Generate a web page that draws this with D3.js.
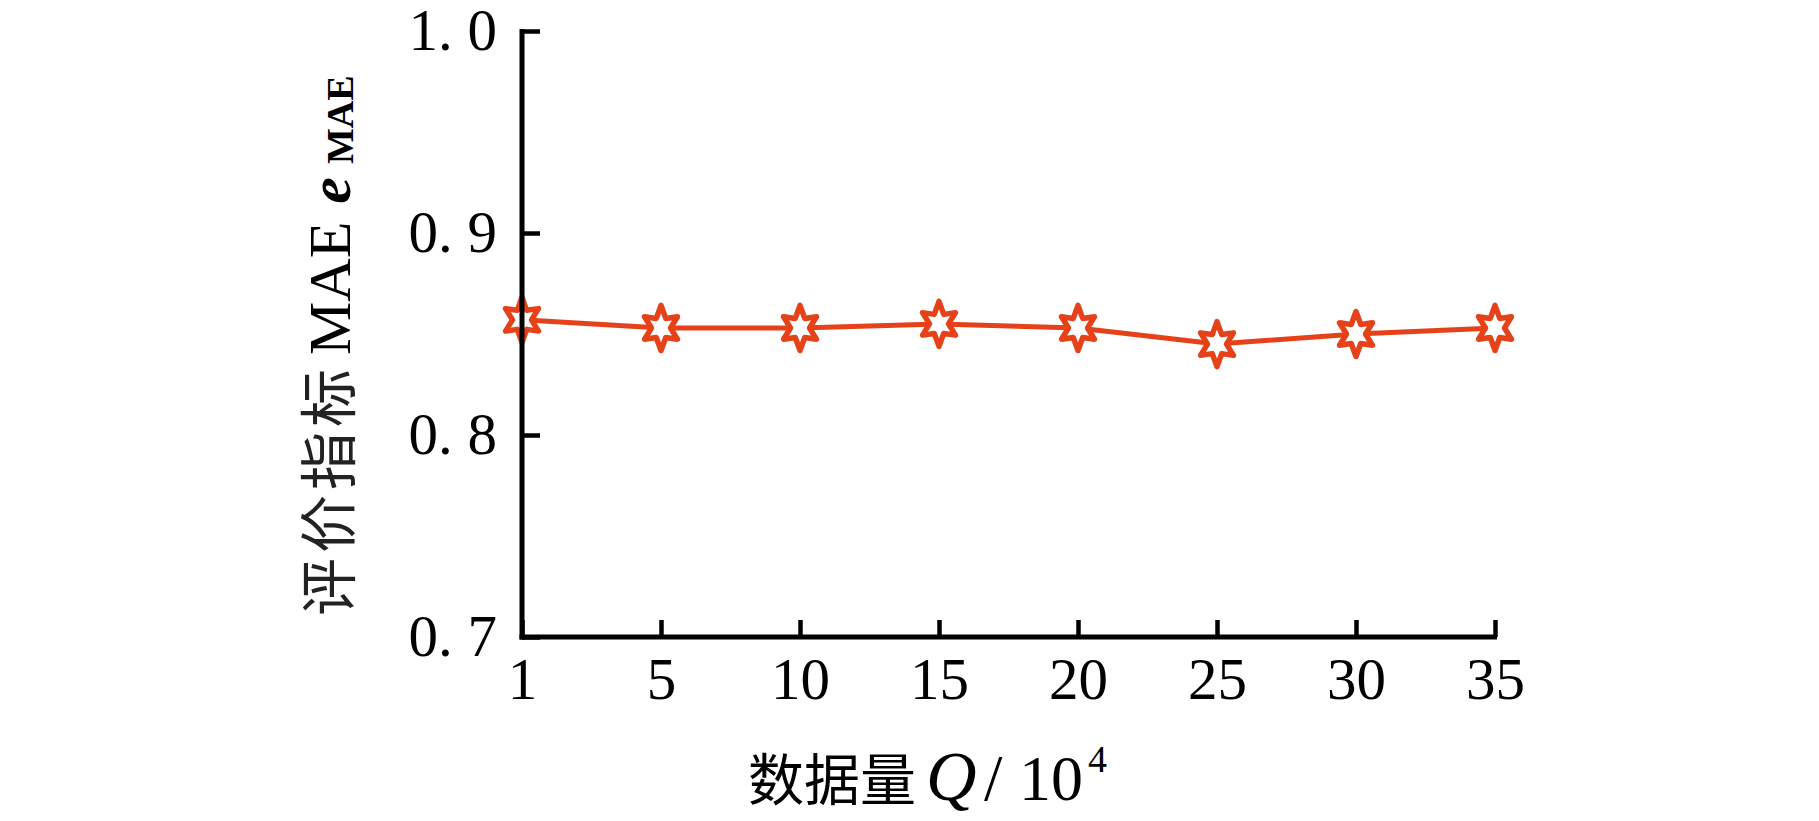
<!DOCTYPE html>
<html>
<head>
<meta charset="utf-8">
<script src="https://cdn.jsdelivr.net/npm/d3@7"></script>
<style>
  html, body { margin: 0; padding: 0; background: #fff; }
  svg { display: block; }
</style>
</head>
<body>
<svg id="chart" width="1819" height="821"></svg>
<script>
// ---- data ----
const categories = ["1", "5", "10", "15", "20", "25", "30", "35"];
const maeValues = [0.857, 0.853, 0.853, 0.855, 0.853, 0.845, 0.850, 0.853];
const yTicks = [0.7, 0.8, 0.9, 1.0];
const xTitleParts = ["数据量", "Q", "/", "10", "4"];
const yTitleParts = ["评价指标", "MAE", "e", "MAE"];

(function () {
const svg = d3.select("#chart");
const mLeft = 522, mRight = 1495, mTop = 31, mBottom = 637;
const color = "#E6421A";
const serif = "'Liberation Serif', 'DejaVu Serif', serif";
const cjk = "'Noto Sans CJK SC', sans-serif";

const x = d3.scalePoint().domain(categories).range([mLeft, mRight]);
const y = d3.scaleLinear().domain([0.7, 1.0]).range([mBottom, mTop]);

const data = categories.map((c, i) => ({ c, v: maeValues[i] }));

// line
svg.append("path")
  .datum(data)
  .attr("fill", "none")
  .attr("stroke", color)
  .attr("stroke-width", 5)
  .attr("stroke-linejoin", "round")
  .attr("d", d3.line().x(d => x(d.c)).y(d => y(d.v)));

// hexagram marker
const hexagram = {
  draw(ctx, size) {
    const Rx = 19, Ry = 22.5, rx = 9.5, ry = 11;
    for (let k = 0; k < 12; k++) {
      const th = k * Math.PI / 6;
      const outer = k % 2 === 0;
      const px = (outer ? Rx : rx) * Math.sin(th);
      const py = -(outer ? Ry : ry) * Math.cos(th);
      if (k === 0) ctx.moveTo(px, py); else ctx.lineTo(px, py);
    }
    ctx.closePath();
  }
};
svg.append("g").selectAll("path")
  .data(data)
  .join("path")
  .attr("transform", d => `translate(${x(d.c)},${y(d.v)})`)
  .attr("d", d3.symbol().type(hexagram).size(1))
  .attr("fill", "#fff")
  .attr("stroke", color)
  .attr("stroke-width", 5.5)
  .attr("stroke-linejoin", "round");

// axes
const yAxis = d3.axisLeft(y)
  .tickValues(yTicks)
  .tickSizeInner(-18).tickSizeOuter(0).tickPadding(25)
  .tickFormat(d => d3.format(".1f")(d).replace(".", ". "));
const gy = svg.append("g").attr("transform", `translate(${mLeft},0)`).call(yAxis);

const xAxis = d3.axisBottom(x)
  .tickSizeInner(-17).tickSizeOuter(0).tickPadding(20);
const gx = svg.append("g").attr("transform", `translate(0,${mBottom})`).call(xAxis);

[gx, gy].forEach(g => {
  g.select(".domain").attr("stroke", "#000").attr("stroke-width", 5);
  g.selectAll(".tick line").attr("stroke", "#000").attr("stroke-width", 4.5);
  g.selectAll(".tick text")
    .attr("fill", "#000")
    .attr("font-family", serif)
    .attr("font-size", 59);
});
gx.select(".domain").attr("d", `M${mLeft - 2.5},0H${mRight + 2}`);
gy.select(".domain").attr("d", `M0,${mTop - 2}V${mBottom + 2.5}`);

// x title
const xt = svg.append("text").attr("y", 800).attr("fill", "#000");
xt.append("tspan").attr("x", 748).attr("font-family", cjk).attr("font-size", 56).text(xTitleParts[0]);
xt.append("tspan").attr("x", 926).attr("font-family", serif).attr("font-size", 70).attr("font-style", "italic").text(xTitleParts[1]);
xt.append("tspan").attr("x", 984).attr("font-family", serif).attr("font-size", 66).text(xTitleParts[2]);
xt.append("tspan").attr("x", 1019).attr("font-family", serif).attr("font-size", 64).text(xTitleParts[3]);
xt.append("tspan").attr("x", 1088).attr("y", 772).attr("font-family", serif).attr("font-size", 38).text(xTitleParts[4]);

// y title (rotated)
const yt = svg.append("text")
  .attr("transform", "translate(350,616) rotate(-90)")
  .attr("fill", "#000");
yt.append("tspan").attr("font-family", cjk).attr("font-size", 58).attr("letter-spacing", 5).attr("fill", "#222").text(yTitleParts[0]);
yt.append("tspan").attr("font-family", serif).attr("font-size", 60).attr("font-weight", "normal").attr("dx", 9).text(yTitleParts[1]);
yt.append("tspan").attr("font-family", serif).attr("font-size", 60).attr("font-style", "italic").attr("font-weight", "bold").attr("dx", 18).text(yTitleParts[2]);
yt.append("tspan").attr("font-family", serif).attr("font-size", 38).attr("font-weight", "bold").attr("dx", 13).attr("dy", 3).text(yTitleParts[3]);
})();
</script>
</body>
</html>
